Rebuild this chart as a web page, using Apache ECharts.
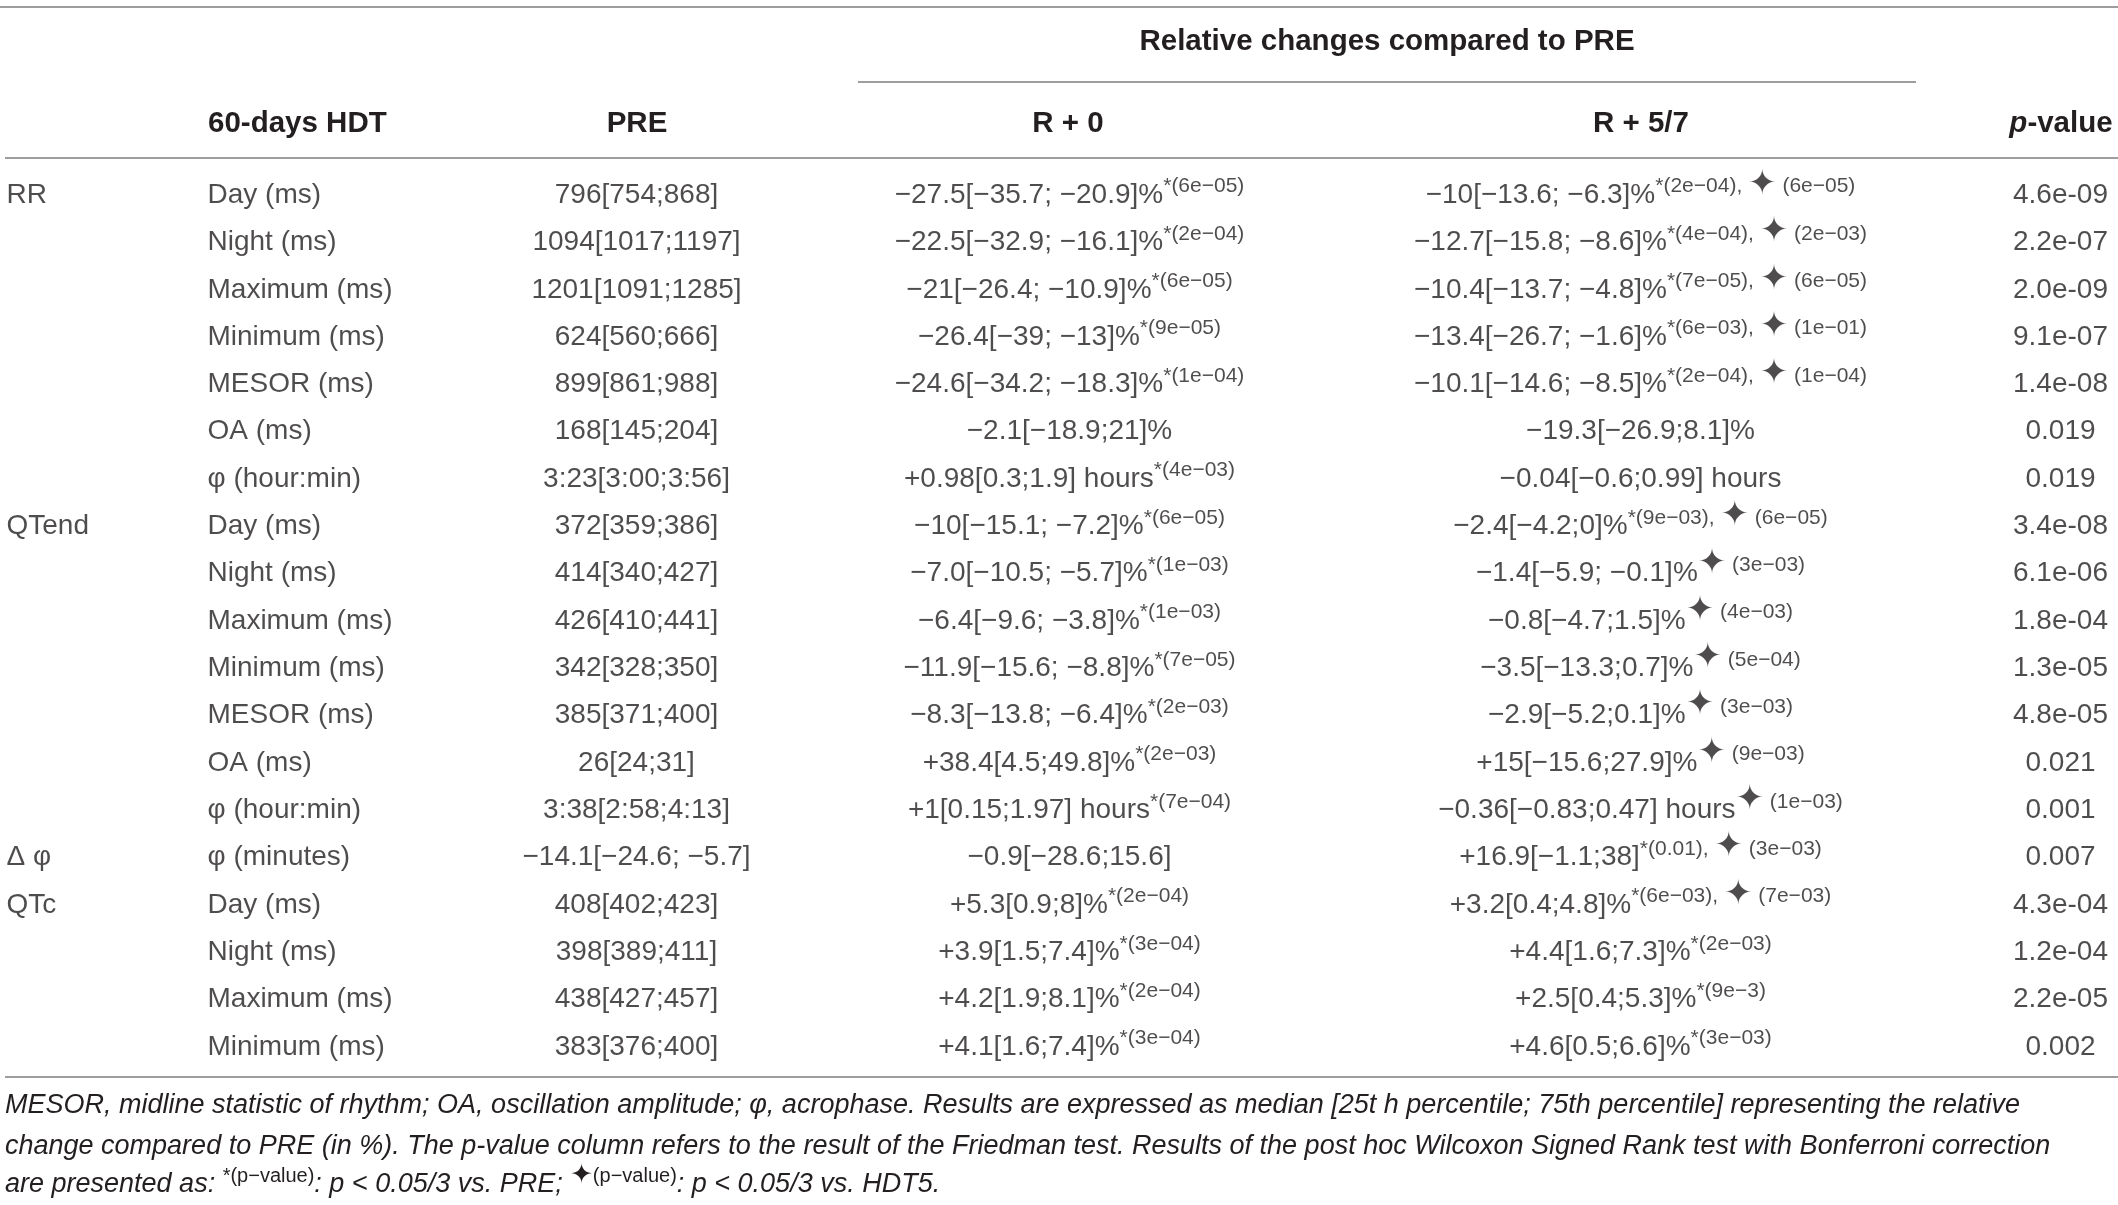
<!DOCTYPE html>
<html>
<head>
<meta charset="utf-8">
<script src="https://cdn.jsdelivr.net/npm/echarts@6/dist/echarts.min.js"></script>
<style>
html, body { margin: 0; padding: 0; background: #fff; }
#main { width: 2118px; height: 1205px; }
</style>
</head>
<body>
<div id="main"></div>
<script>
var chart = echarts.init(document.getElementById('main'));

// table content, one entry per row
var groups = ['RR', '', '', '', '', '', '', 'QTend', '', '', '', '', '', '', 'Δ φ', 'QTc', '', '', ''];
var params = ['Day (ms)', 'Night (ms)', 'Maximum (ms)', 'Minimum (ms)', 'MESOR (ms)', 'OA (ms)', 'φ (hour:min)',
    'Day (ms)', 'Night (ms)', 'Maximum (ms)', 'Minimum (ms)', 'MESOR (ms)', 'OA (ms)', 'φ (hour:min)',
    'φ (minutes)', 'Day (ms)', 'Night (ms)', 'Maximum (ms)', 'Minimum (ms)'];
var pre = ['796[754;868]', '1094[1017;1197]', '1201[1091;1285]', '624[560;666]', '899[861;988]', '168[145;204]', '3:23[3:00;3:56]',
    '372[359;386]', '414[340;427]', '426[410;441]', '342[328;350]', '385[371;400]', '26[24;31]', '3:38[2:58;4:13]',
    '−14.1[−24.6; −5.7]', '408[402;423]', '398[389;411]', '438[427;457]', '383[376;400]'];
var r0 = ['−27.5[−35.7; −20.9]%', '−22.5[−32.9; −16.1]%', '−21[−26.4; −10.9]%', '−26.4[−39; −13]%', '−24.6[−34.2; −18.3]%',
    '−2.1[−18.9;21]%', '+0.98[0.3;1.9] hours', '−10[−15.1; −7.2]%', '−7.0[−10.5; −5.7]%', '−6.4[−9.6; −3.8]%',
    '−11.9[−15.6; −8.8]%', '−8.3[−13.8; −6.4]%', '+38.4[4.5;49.8]%', '+1[0.15;1.97] hours', '−0.9[−28.6;15.6]',
    '+5.3[0.9;8]%', '+3.9[1.5;7.4]%', '+4.2[1.9;8.1]%', '+4.1[1.6;7.4]%'];
var r0VsPre = ['6e−05', '2e−04', '6e−05', '9e−05', '1e−04', '', '4e−03', '6e−05', '1e−03', '1e−03',
    '7e−05', '2e−03', '2e−03', '7e−04', '', '2e−04', '3e−04', '2e−04', '3e−04'];
var r57 = ['−10[−13.6; −6.3]%', '−12.7[−15.8; −8.6]%', '−10.4[−13.7; −4.8]%', '−13.4[−26.7; −1.6]%', '−10.1[−14.6; −8.5]%',
    '−19.3[−26.9;8.1]%', '−0.04[−0.6;0.99] hours', '−2.4[−4.2;0]%', '−1.4[−5.9; −0.1]%', '−0.8[−4.7;1.5]%',
    '−3.5[−13.3;0.7]%', '−2.9[−5.2;0.1]%', '+15[−15.6;27.9]%', '−0.36[−0.83;0.47] hours', '+16.9[−1.1;38]',
    '+3.2[0.4;4.8]%', '+4.4[1.6;7.3]%', '+2.5[0.4;5.3]%', '+4.6[0.5;6.6]%'];
var r57VsPre = ['2e−04', '4e−04', '7e−05', '6e−03', '2e−04', '', '', '9e−03', '', '',
    '', '', '', '', '0.01', '6e−03', '2e−03', '9e−3', '3e−03'];
var r57VsHdt = ['6e−05', '2e−03', '6e−05', '1e−01', '1e−04', '', '', '6e−05', '3e−03', '4e−03',
    '5e−04', '3e−03', '9e−03', '1e−03', '3e−03', '7e−03', '', '', ''];
var pValues = ['4.6e-09', '2.2e-07', '2.0e-09', '9.1e-07', '1.4e-08', '0.019', '0.019', '3.4e-08', '6.1e-06', '1.8e-04',
    '1.3e-05', '4.8e-05', '0.021', '0.001', '0.007', '4.3e-04', '1.2e-04', '2.2e-05', '0.002'];

var headers = ['60-days HDT', 'PRE', 'R + 0', 'R + 5/7'];
var spanHeader = 'Relative changes compared to PRE';
var notes = [
    'MESOR, midline statistic of rhythm; OA, oscillation amplitude; φ, acrophase. Results are expressed as median [25t h percentile; 75th percentile] representing the relative',
    'change compared to PRE (in %). The p-value column refers to the result of the Friedman test. Results of the post hoc Wilcoxon Signed Rank test with Bonferroni correction',
    'are presented as: {s|*(p−value)}: p < 0.05/3 vs. PRE; {d|✦}{s|(p−value)}: p < 0.05/3 vs. HDT5.'
];

var ink = '#231f20';
var ruleColor = '#7c7c7c';
var FONT = '"Liberation Sans", Arial, Helvetica, sans-serif';
var W = 2118;
// column anchors (x in px)
var COL = { group: 7, param: 208, pre: 637, r0: 1070, r57: 1641, p: 2061 };

// superscripts: bottom padding lifts a middle-aligned token by half its value
var rich = {
    m: { fontSize: 28, lineHeight: 36, fontFamily: FONT, color: ink },
    s: { fontSize: 21, padding: [0, 0, 17, 0], fontFamily: FONT, color: ink },
    d: { fontSize: 34, padding: [0, 0, 20, 0], fontFamily: '"DejaVu Sans", sans-serif', color: ink }
};

function cellText(main) {
    return main ? '{m|' + main + '}' : '';
}

function cellSeries(x, align, fmt) {
    return {
        type: 'scatter',
        symbolSize: 1,
        silent: true,
        itemStyle: { color: 'rgba(0,0,0,0)' },
        data: params.map(function (p, i) { return [x, i]; }),
        label: {
            show: true,
            position: [0, 0],
            align: align,
            verticalAlign: 'middle',
            color: ink,
            fontFamily: FONT,
            fontSize: 28,
            rich: rich,
            formatter: function (p) { return fmt(p.dataIndex); }
        }
    };
}

var series = [
    cellSeries(COL.group, 'left', function (i) { return cellText(groups[i]); }),
    cellSeries(COL.param, 'left', function (i) { return cellText(params[i]); }),
    cellSeries(COL.pre, 'center', function (i) { return cellText(pre[i]); }),
    cellSeries(COL.r0, 'center', function (i) {
        return cellText(r0[i]) + (r0VsPre[i] ? '{s|*(' + r0VsPre[i] + ')}' : '');
    }),
    cellSeries(COL.r57, 'center', function (i) {
        var t = cellText(r57[i]);
        if (r57VsPre[i]) {
            t += '{s|*(' + r57VsPre[i] + ')' + (r57VsHdt[i] ? ', ' : '') + '}';
        }
        if (r57VsHdt[i]) {
            t += '{d|✦}{s| (' + r57VsHdt[i] + ')}';
        }
        return t;
    }),
    cellSeries(COL.p, 'center', function (i) { return cellText(pValues[i]); })
];

function rule(y, x1, x2) {
    return {
        type: 'line',
        silent: true,
        shape: { x1: x1, y1: y, x2: x2, y2: y },
        style: { stroke: ruleColor, lineWidth: 1.5 }
    };
}

function headText(x, y, text, align) {
    return {
        type: 'text',
        silent: true,
        x: x,
        y: y,
        style: {
            text: text,
            align: align,
            verticalAlign: 'middle',
            fill: ink,
            font: 'bold 29.5px ' + FONT,
            rich: {
                i: { fontStyle: 'italic', fontWeight: 'bold', fontSize: 29.5, fontFamily: FONT, fill: ink }
            }
        }
    };
}

var noteRich = {
    s: { fontSize: 20, padding: [0, 0, 15, 0], fontFamily: FONT, fill: ink },
    d: { fontSize: 27, padding: [0, 0, 17, 0], fontFamily: '"DejaVu Sans", sans-serif', fill: ink }
};

var graphics = [
    rule(7, 0, W),
    rule(82, 858, 1916),
    rule(158, 5, W),
    rule(1077, 5, W),
    headText(1387, 42, spanHeader, 'center'),
    headText(COL.param, 124, headers[0], 'left'),
    headText(COL.pre, 124, headers[1], 'center'),
    headText(COL.r0 - 2, 124, headers[2], 'center'),
    headText(COL.r57, 124, headers[3], 'center'),
    headText(COL.p, 124, '{i|p}-value', 'center')
];

var noteY = [1105, 1146, 1184];
notes.forEach(function (n, k) {
    graphics.push({
        type: 'text',
        silent: true,
        x: 5,
        y: noteY[k],
        style: {
            text: n,
            verticalAlign: 'middle',
            fill: ink,
            font: 'italic 27px ' + FONT,
            rich: noteRich
        }
    });
});

var option = {
    backgroundColor: '#ffffff',
    animation: false,
    grid: { left: 0, right: 0, top: 172, bottom: 134 },
    xAxis: { type: 'value', min: 0, max: W, show: false },
    yAxis: {
        type: 'category',
        inverse: true,
        show: false,
        data: params.map(function (p, i) { return String(i); })
    },
    series: series,
    graphic: graphics
};

chart.setOption(option);
</script>
</body>
</html>
